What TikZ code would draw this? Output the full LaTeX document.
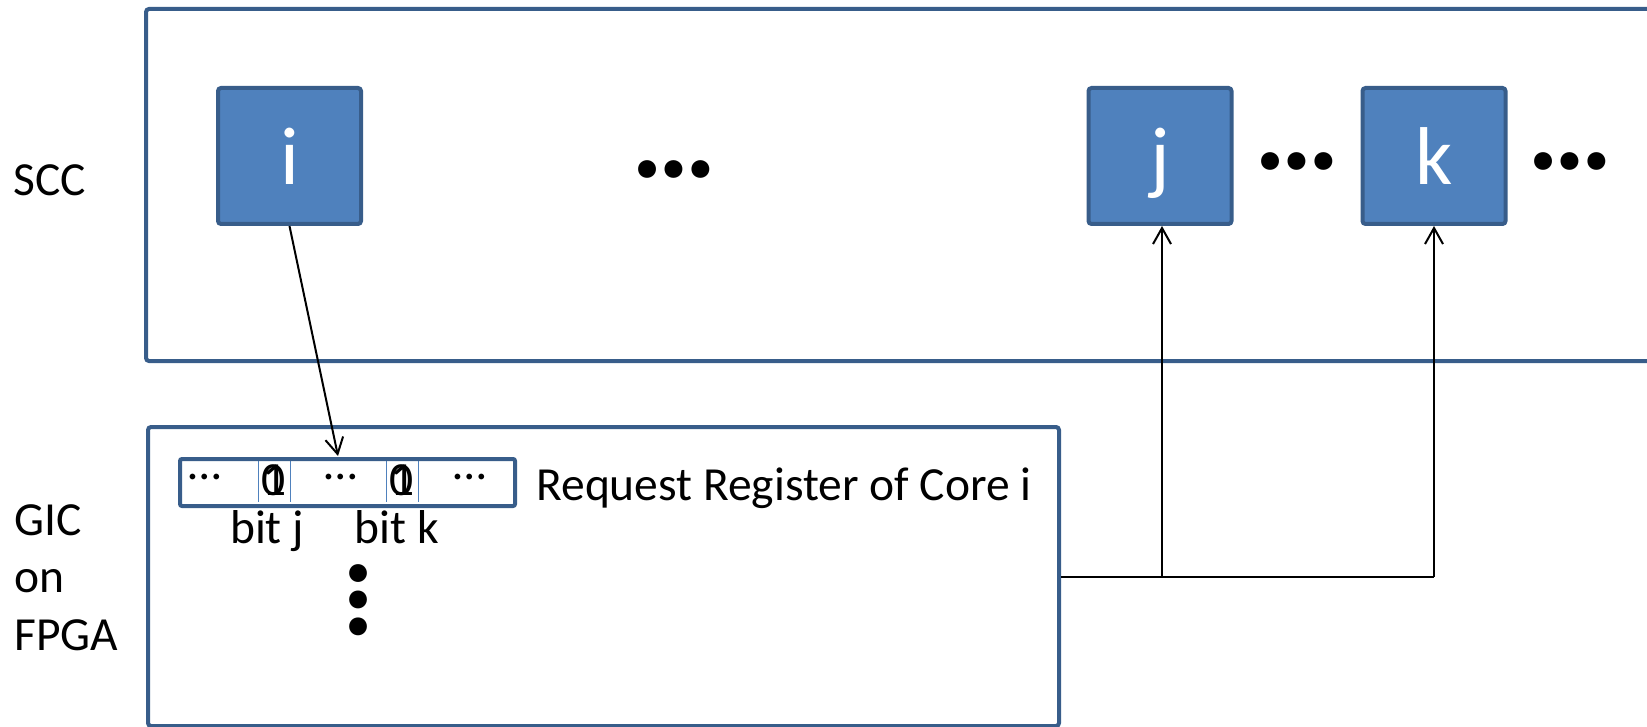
\documentclass[tikz,border=0pt]{standalone}
\usepackage{fontspec}
\setmainfont{Carlito}
\usetikzlibrary{arrows.meta}
\definecolor{boxline}{HTML}{385D8A}
\definecolor{boxfill}{HTML}{4F81BD}
\begin{document}
\begin{tikzpicture}[x=0.5pt,y=-0.5pt,
  frame/.style={draw=boxline, line width=2pt, rounded corners=1.5pt},
  core/.style={draw=boxline, fill=boxfill, line width=2pt, rounded corners=1.5pt,
    minimum width=71.5pt, minimum height=68pt, inner sep=0pt, text=white,
    font=\fontsize{41}{41}\selectfont, text height=29pt, text depth=0pt},
  lbl/.style={inner sep=0pt, font=\fontsize{23.75}{28}\selectfont},
  bigdots/.style={inner sep=0pt, font=\fontsize{60}{60}\selectfont\bfseries},
  regbox/.style={draw=boxline, line width=2pt, rounded corners=1pt, inner sep=0pt,
    minimum width=167.5pt, minimum height=23.5pt, anchor=north west},
  cell/.style={draw=boxfill, line width=0.5pt},
  conn/.style={draw=black, line width=1pt},
  arr/.style={conn, -{Straight Barb[length=8pt,width=9pt]}}
]
\useasboundingbox (0,0) rectangle (1647,727);
\clip (0,0) rectangle (1647,727);

% outer frames
\draw[frame] (146,9) rectangle (1720,361);
\node[frame, anchor=north west, minimum width=455.5pt, minimum height=149.5pt, inner sep=0pt] (gic) at (146,425) {};

% left labels
\node[lbl, anchor=base west] (scc) at (13,196) {SCC};
\node[lbl, anchor=base west] (gicA) at (14,535) {GIC};
\node[lbl, anchor=base west] (gicB) at (14,592) {on};
\node[lbl, anchor=base west] (gicC) at (14,650) {FPGA};

% cores
\node[core] (i) at (289.5,156) {i};
\node[core] (j) at (1160,156) {j};
\node[core] (k) at (1434,156) {k};

% big dots
\node[bigdots, anchor=base] (d1) at (674,178) {…};
\node[bigdots, anchor=base] (d2) at (1297,170) {…};
\node[bigdots, anchor=base] (d3) at (1570,170) {…};
\node[bigdots, rotate=-90] (d4) at (359,600) {…};

% register
\foreach \x in {258,290,386,418} \draw[cell] (\x,459) -- (\x,502);
\node[regbox] (reg) at (178,457) {};
\node[lbl, anchor=base] (c1) at (205,479) {…};
\node[lbl, anchor=base] (c2) at (274,495) {\makebox[0pt][c]{0}\makebox[0pt][c]{1}};
\node[lbl, anchor=base] (c3) at (341,479) {…};
\node[lbl, anchor=base] (c4) at (402,495) {\makebox[0pt][c]{0}\makebox[0pt][c]{1}};
\node[lbl, anchor=base] (c5) at (470,479) {…};
\node[lbl, anchor=base west] (regtxt) at (536,500) {Request Register of Core i};
\node[lbl, anchor=base] (bj) at (267,543) {bit j};
\node[lbl, anchor=base] (bk) at (397,543) {bit k};

% connectors
\coordinate (tip) at (338,456);
\draw[arr] (i.south) -- (tip);
\coordinate (jx) at (1162,577);
\coordinate (kx) at (1434,577);
\draw[conn] (gic.east |- jx) -- (kx);
\draw[arr] (jx) -- (jx |- j.south);
\draw[arr] (kx) -- (k.south);
\end{tikzpicture}
\end{document}
